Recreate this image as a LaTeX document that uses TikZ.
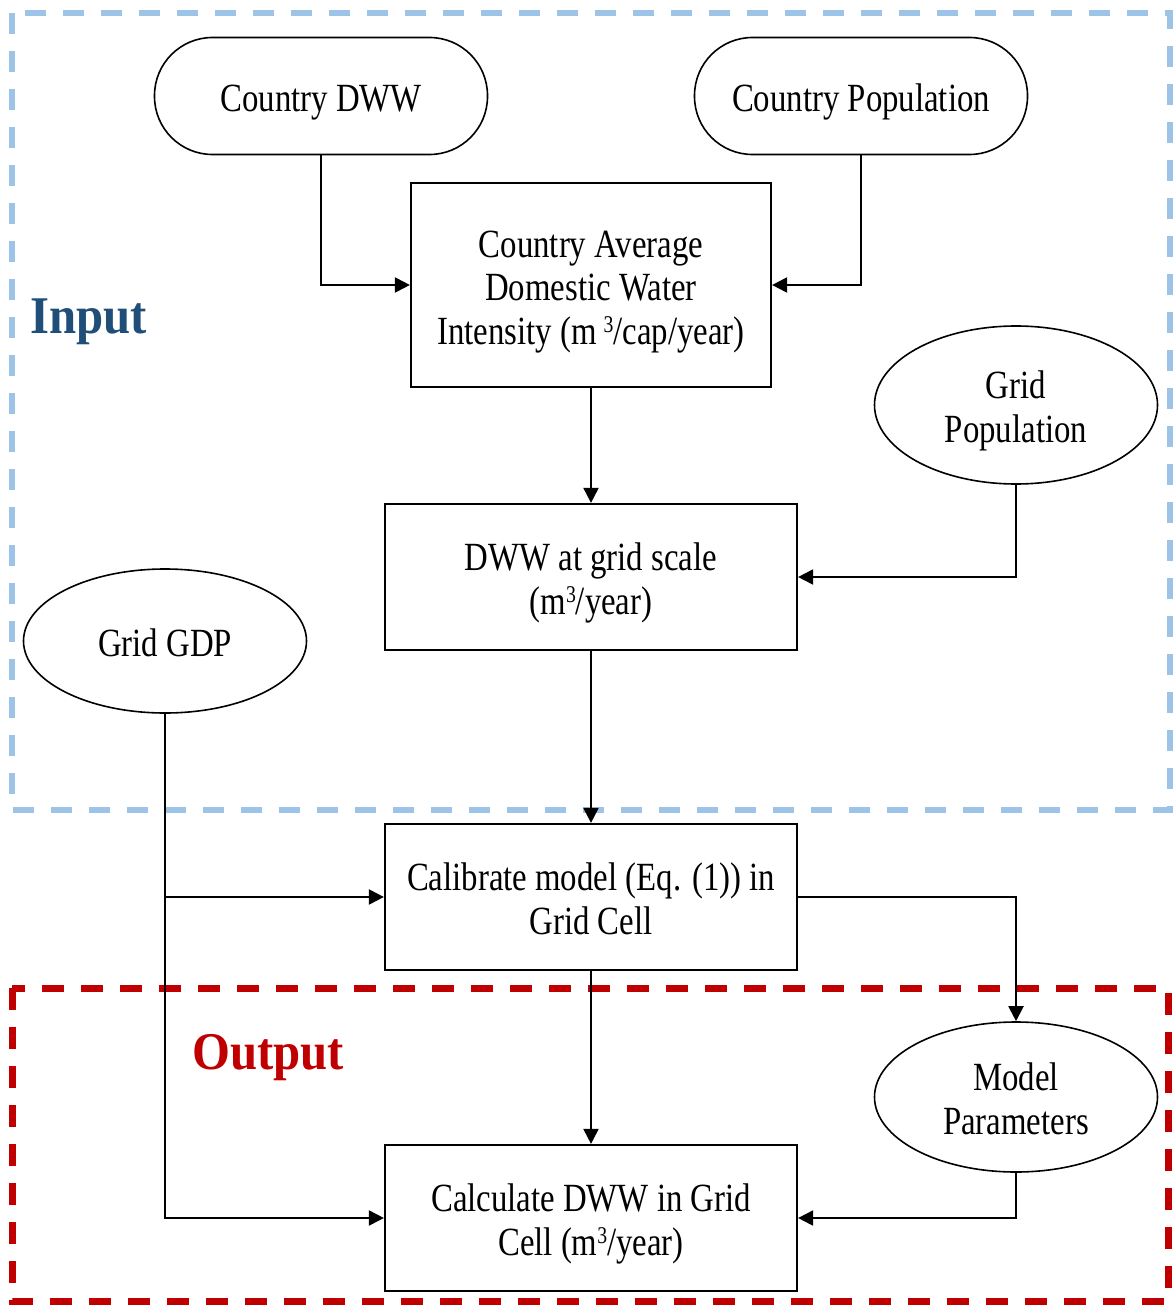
\documentclass[tikz,border=0pt]{standalone}
\usepackage{fontspec}
\setmainfont{Liberation Serif}[FakeStretch=0.82]
\newfontfamily\labelfont{Liberation Serif}[FakeStretch=0.92]
\usetikzlibrary{arrows.meta,shapes.geometric}
\definecolor{inframe}{HTML}{9DC3E6}
\definecolor{intext}{HTML}{1F4E79}
\definecolor{outred}{HTML}{C00000}
% fixed first-line height and last-line depth so every label sits alike
\newcommand{\toprule}{\rule{0pt}{42pt}}
\newcommand{\botrule}{\rule[-11pt]{0pt}{11pt}}
% raised small "3" for cubic metres
\newcommand{\cubic}{\raisebox{12pt}{\fontsize{24}{24}\selectfont 3}}
\begin{document}
\begin{tikzpicture}[x=1pt,y=-1pt,
  every node/.style={font=\fontsize{40}{43.5}\selectfont, align=center, inner sep=0pt},
  proc/.style={draw, rectangle, line width=2.2pt},
  term/.style={draw, rectangle, rounded corners=58pt, line width=1.6pt,
    minimum width=333pt, minimum height=117pt},
  oval/.style={draw, ellipse, line width=1.6pt, minimum width=283pt},
  flow/.style={line width=2pt, -{Triangle[length=15pt,width=15pt]}},
  tag/.style={font=\labelfont\bfseries\fontsize{53}{58}\selectfont, anchor=base west}]
\path[use as bounding box] (0,0) rectangle (1173,1305);

% group frames
\draw[draw=inframe, line width=5.5pt, dash pattern=on 21pt off 17pt] (12,13) rectangle (1170,810);
\draw[draw=outred, line width=7pt, dash pattern=on 22pt off 17pt] (12,988) rectangle (1168,1301);
\node[tag, text=intext] (inlabel) at (30,333) {Input};
\node[tag, text=outred] (outlabel) at (192,1069) {Output};

% data sources
\node[term] (cdww) at (321,96) {\toprule Country DWW\botrule};
\node[term] (cpop) at (861,96) {\toprule Country Population\botrule};
\node[oval, minimum height=158pt] (gpop) at (1016,405) {\toprule Grid\\Population\botrule};
\node[oval, minimum height=144pt] (gdp) at (165,641) {\toprule Grid GDP\botrule};
\node[oval, minimum height=150pt] (mpar) at (1016,1097) {\toprule Model\\Parameters\botrule};

% processing steps
\node[proc, minimum width=360pt, minimum height=204pt] (avg) at (591,285)
  {\toprule Country Average\\Domestic Water\\Intensity (m\,\cubic/cap/year)\botrule};
\node[proc, minimum width=412pt, minimum height=146pt] (grid) at (591,577)
  {\toprule DWW at grid scale\\(m\cubic/year)\botrule};
\node[proc, minimum width=412pt, minimum height=146pt] (calib) at (591,897)
  {\toprule Calibrate model (Eq. (1)) in\\Grid Cell\botrule};
\node[proc, minimum width=412pt, minimum height=146pt] (calc) at (591,1218)
  {\toprule Calculate DWW in Grid\\Cell (m\cubic/year)\botrule};

% connectors
\draw[flow] (cdww.south) |- (avg.west);
\draw[flow] (cpop.south) |- (avg.east);
\draw[flow] (avg.south) -- (grid.north);
\draw[flow] (gpop.south) |- (grid.east);
\draw[flow] (grid.south) -- (calib.north);
\draw[flow] (gdp.south) |- (calc.west);
\coordinate (split) at (gdp.south |- calib.west);
\draw[flow] (split) -- (calib.west);
\draw[flow] (calib.east) -| (mpar.north);
\draw[flow] (calib.south) -- (calc.north);
\draw[flow] (mpar.south) |- (calc.east);
\end{tikzpicture}
\end{document}
